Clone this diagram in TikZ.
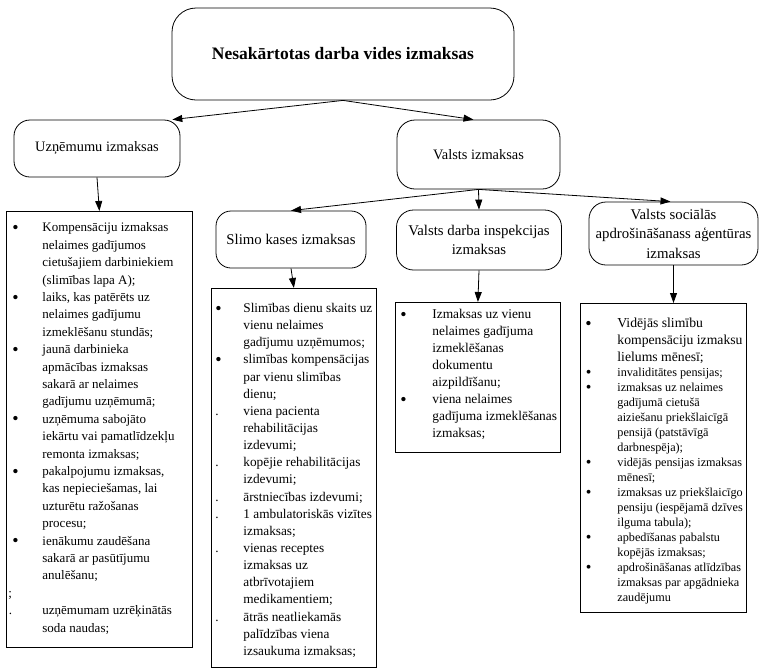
\documentclass[tikz,border=0pt]{standalone}
\usepackage{fontspec}
\setmainfont{Liberation Serif}
\usetikzlibrary{arrows.meta}

% offsets and size of bullet and text inside the list boxes
\newlength\bulx
\newlength\txtx
\newlength\bulsize
\setlength\bulsize{18pt}
\newcommand\bigbul{\smash{\raisebox{-0.09\bulsize}{\fontsize{\bulsize}{\bulsize}\selectfont\textbullet}}}
\newcommand\bl{\makebox[0pt][l]{\hspace*{\bulx}\bigbul}\hspace*{\txtx}}
\newcommand\cl{\hspace*{\txtx}}
\newcommand\dl{\makebox[0pt][l]{\hspace*{\bulx}.}\hspace*{\txtx}}
\newcommand\firstbase[1]{\rule{0pt}{#1}}

\tikzset{
  rbox/.style={draw, line width=0.8pt, rounded corners=#1, align=center, inner sep=1pt},
  lbox/.style={draw, line width=0.8pt, inner sep=0pt, anchor=north west},
  conn/.style={draw, line width=0.8pt, -{Triangle[length=10pt,width=7pt]}},
  titlefont/.style={font=\fontsize{17.5}{21}\selectfont\bfseries},
  midfont/.style={font=\fontsize{14.4}{17}\selectfont},
  subfont/.style={font=\fontsize{14.8}{19.5}\selectfont},
}

\begin{document}
\begin{tikzpicture}[x=1pt,y=-1pt]
\useasboundingbox (0,0) rectangle (763,670);

% upper levels
\node[rbox=24, titlefont, minimum width=342pt, minimum height=92pt] (top) at (343,54) {Nesakārtotas darba vides izmaksas};
\node[rbox=16, midfont, minimum width=166pt, minimum height=57pt] (uz) at (97,148.5) {Uzņēmumu izmaksas};
\node[rbox=18, midfont, minimum width=163pt, minimum height=69pt] (val) at (478.5,154.5) {Valsts izmaksas};
\node[rbox=15, subfont, minimum width=150pt, minimum height=57pt] (sl) at (291,239.5) {Slimo kases izmaksas};
\node[rbox=17, subfont, minimum width=165pt, minimum height=60pt] (vd) at (479,240) {Valsts darba inspekcijas\\izmaksas};
\node[rbox=17, subfont, minimum width=169pt, minimum height=63pt] (so) at (673.5,233.5) {Valsts sociālās\\apdrošināšanass aģentūras\\izmaksas};

% list boxes
\node[lbox] (l1) at (6,211) {\parbox[c][436pt][t]{186pt}{\fontsize{13}{17.4}\selectfont
\setlength\bulx{6pt}\setlength\txtx{36pt}%
\firstbase{20.5pt}\bl Kompensāciju izmaksas\\
\cl nelaimes gadījumos\\
\cl cietušajiem darbiniekiem\\
\cl (slimības lapa A);\\
\bl laiks, kas patērēts uz\\
\cl nelaimes gadījumu\\
\cl izmeklēšanu stundās;\\
\bl jaunā darbinieka\\
\cl apmācības izmaksas\\
\cl sakarā ar nelaimes\\
\cl gadījumu uzņēmumā;\\
\bl uzņēmuma sabojāto\\
\cl iekārtu vai pamatlīdzekļu\\
\cl remonta izmaksas;\\
\bl pakalpojumu izmaksas,\\
\cl kas nepieciešamas, lai\\
\cl uzturētu ražošanas\\
\cl procesu;\\
\bl ienākumu zaudēšana\\
\cl sakarā ar pasūtījumu\\
\cl anulēšanu;\\
\makebox[0pt][l]{\hspace*{2pt};}\\
\makebox[0pt][l]{\hspace*{2.5pt}.}\cl uzņēmumam uzrēķinātās\\
\cl soda naudas;}};

\node[lbox] (l2) at (211,288) {\parbox[c][379pt][t]{165pt}{\fontsize{13.3}{17.15}\selectfont
\setlength\bulx{4pt}\setlength\txtx{32pt}%
\firstbase{24pt}\bl Slimības dienu skaits uz\\
\cl vienu nelaimes\\
\cl gadījumu uzņēmumos;\\
\bl slimības kompensācijas\\
\cl par vienu slimības\\
\cl dienu;\\
\dl viena pacienta\\
\cl rehabilitācijas\\
\cl izdevumi;\\
\dl kopējie rehabilitācijas\\
\cl izdevumi;\\
\dl ārstniecības izdevumi;\\
\dl 1 ambulatoriskās vizītes\\
\cl izmaksas;\\
\dl vienas receptes\\
\cl izmaksas uz\\
\cl atbrīvotajiem\\
\cl medikamentiem;\\
\dl ātrās neatliekamās\\
\cl palīdzības viena\\
\cl izsaukuma izmaksas;}};

\node[lbox] (l3) at (395,302) {\parbox[c][150pt][t]{165pt}{\fontsize{13.4}{17}\selectfont
\setlength\bulx{5pt}\setlength\txtx{37pt}%
\firstbase{16pt}\bl Izmaksas uz vienu\\
\cl nelaimes gadījuma\\
\cl izmeklēšanas\\
\cl dokumentu\\
\cl aizpildīšanu;\\
\bl viena nelaimes\\
\cl gadījuma izmeklēšanas\\
\cl izmaksas;}};

\node[lbox] (l4) at (580,303) {\parbox[c][309pt][t]{166pt}{\setlength\bulx{5pt}\setlength\txtx{37pt}%
\fontsize{13.7}{17}\selectfont
\firstbase{24pt}\bl Vidējās slimību\\
\cl kompensāciju izmaksu\\
\cl lielums mēnesī;\par
\fontsize{12.2}{15}\selectfont\setlength\bulsize{16pt}\setlength\bulx{5.5pt}%
\bl invaliditātes pensijas;\\
\bl izmaksas uz nelaimes\\
\cl gadījumā cietušā\\
\cl aiziešanu priekšlaicīgā\\
\cl pensijā (patstāvīgā\\
\cl darbnespēja);\\
\bl vidējās pensijas izmaksas\\
\cl mēnesī;\\
\bl izmaksas uz priekšlaicīgo\\
\cl pensiju (iespējamā dzīves\\
\cl ilguma tabula);\\
\bl apbedīšanas pabalstu\\
\cl kopējās izmaksas;\\
\bl apdrošināšanas atlīdzības\\
\cl izmaksas par apgādnieka\\
\cl zaudējumu\par}};

% connectors
\draw[conn] (top.south) -- (uz.21);
\draw[conn] (top.south) -- ([xshift=-5pt]val.north);
\draw[conn] (val.south) -- (sl.north);
\draw[conn] (val.south) -- (vd.north);
\draw[conn] (val.south) -- ([xshift=-3pt]so.north);
\draw[conn] (uz.south) -- (l1.north);
\draw[conn] (sl.south) -- (l2.north);
\draw[conn] (vd.south) -- (l3.north);
\draw[conn] (so.south) -- (so.south |- l4.north);
\end{tikzpicture}
\end{document}
